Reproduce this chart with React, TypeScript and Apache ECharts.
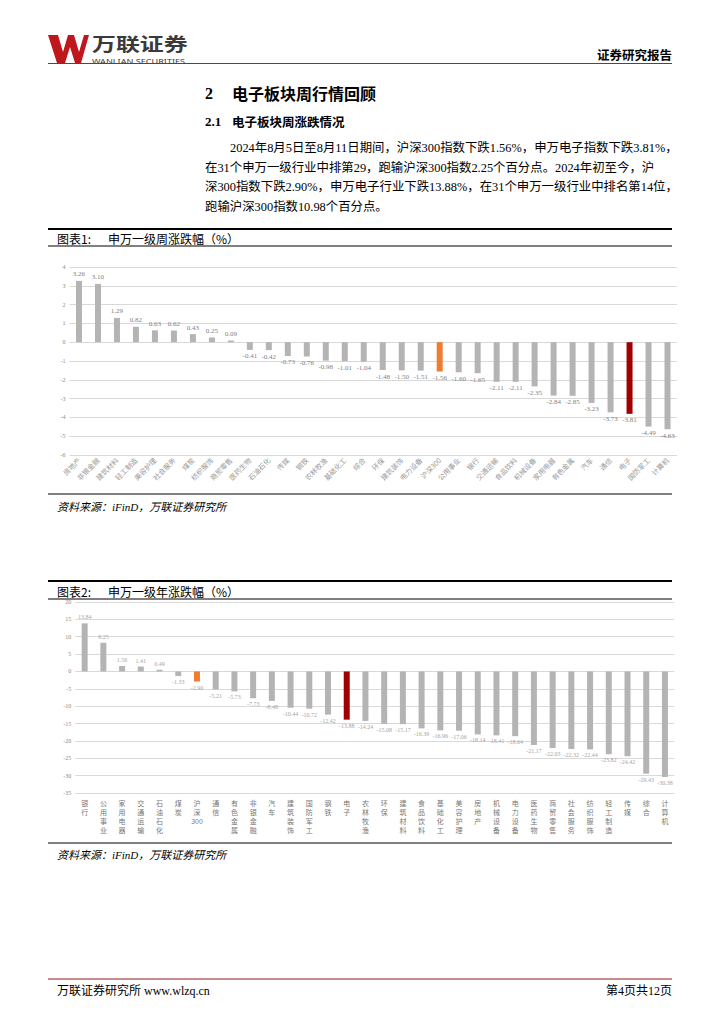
import React, { useEffect, useRef } from "react";
import * as echarts from "echarts";

const weekCategories = ["房地产","非银金融","建筑材料","轻工制造","美容护理","社会服务","煤炭","纺织服饰","商贸零售","医药生物","石油石化","传媒","钢铁","农林牧渔","基础化工","综合","环保","建筑装饰","电力设备","沪深300","公用事业","银行","交通运输","食品饮料","机械设备","家用电器","有色金属","汽车","通信","电子","国防军工","计算机"];
const weekValues = [3.26,3.10,1.29,0.82,0.63,0.62,0.43,0.25,0.09,-0.41,-0.42,-0.73,-0.76,-0.98,-1.01,-1.04,-1.48,-1.50,-1.51,-1.56,-1.60,-1.65,-2.11,-2.11,-2.35,-2.84,-2.85,-3.23,-3.73,-3.81,-4.49,-4.63];

const yearCategories = ["银行","公用事业","家用电器","交通运输","石油石化","煤炭","沪深300","通信","有色金属","非银金融","汽车","建筑装饰","国防军工","钢铁","电子","农林牧渔","环保","建筑材料","食品饮料","基础化工","美容护理","房地产","机械设备","电力设备","医药生物","商贸零售","社会服务","纺织服饰","轻工制造","传媒","综合","计算机"];
const yearValues = [13.84,8.25,1.56,1.41,0.49,-1.33,-2.90,-5.21,-5.73,-7.73,-8.48,-10.44,-10.72,-12.42,-13.88,-14.24,-15.08,-15.17,-16.39,-16.96,-17.06,-18.14,-18.41,-18.64,-21.17,-22.03,-22.32,-22.44,-23.82,-24.42,-29.43,-30.38];

const weekTicks = { min: -6, max: 4, interval: 1 };
const yearTicks = { min: -35, max: 20, interval: 5 };

const paragraph = [
  "2024年8月5日至8月11日期间，沪深300指数下跌1.56%，申万电子指数下跌3.81%，",
  "在31个申万一级行业中排第29，跑输沪深300指数2.25个百分点。2024年初至今，沪",
  "深300指数下跌2.90%，申万电子行业下跌13.88%，在31个申万一级行业中排名第14位，",
  "跑输沪深300指数10.98个百分点。",
];

const GRAY = "#b4b4b4";
const ORANGE = "#ed7d31";
const RED = "#a00000";
const SERIF = "'Liberation Serif','Noto Sans CJK SC',serif";
const SANS = "'Noto Sans CJK SC',sans-serif";

function barColor(name: string) {
  if (name === "沪深300") return ORANGE;
  if (name === "电子") return RED;
  return GRAY;
}

function buildData(cats: string[], vals: number[]) {
  return vals.map((v, i) => ({
    value: v,
    itemStyle: { color: barColor(cats[i]) },
    label: { position: v < 0 ? "bottom" : "top" },
  }));
}

export default function App() {
  const ref = useRef<HTMLDivElement>(null);
  useEffect(() => {
    if (!ref.current) return;
    const chart = echarts.init(ref.current, null, { renderer: "svg" });
    const L = 48, R = 672;
    const txt = (x: number, y: number, text: string, font: string, fill = "#000", align = "left", extra: any = {}) => ({
      type: "text", x, y, silent: true, ...extra,
      style: { text, font, fill, align, verticalAlign: "middle" },
    });
    const line = (x1: number, y1: number, x2: number, y2: number, stroke: string, lw: number) => ({
      type: "line", silent: true, shape: { x1, y1, x2, y2 }, style: { stroke, lineWidth: lw },
    });
    const graphic: any[] = [
      // logo
      { type: "polygon", shape: { points: [[48, 35], [58, 35], [63, 52], [68, 35], [74, 35], [79, 52], [84, 35], [89, 35], [81, 63], [75, 63], [70, 47], [65, 63], [57, 63]] }, style: { fill: "#c0171d" } },
      txt(92, 43, "万联证券", `bold 18px ${SANS}`, "#3a3a3a", "left", { scaleX: 1.33 }),
      txt(92, 60.5, "WANLIAN SECURITIES", `7px 'Noto Sans',sans-serif`, "#3a3a3a", "left", { scaleX: 1.3 }),
      line(L, 63.5, R, 63.5, "#c0171d", 1),
      txt(R, 54, "证券研究报告", `bold 12.5px ${SANS}`, "#000", "right"),
      txt(205, 93, "2", `bold 16px ${SERIF}`),
      txt(232, 93, "电子板块周行情回顾", `bold 16px ${SANS}`),
      txt(205, 121, "2.1", `bold 13px ${SERIF}`),
      txt(232, 121, "电子板块周涨跌情况", `bold 12.5px ${SANS}`),
      txt(230, 148, paragraph[0], `12.4px ${SERIF}`),
      txt(205, 168, paragraph[1], `12.4px ${SERIF}`),
      txt(205, 187, paragraph[2], `12.4px ${SERIF}`),
      txt(205, 207, paragraph[3], `12.4px ${SERIF}`),
      // chart 1 frame
      line(L, 229, R, 229, "#000", 2),
      txt(57, 238, "图表1:", `12px ${SANS}`),
      txt(108, 238, "申万一级周涨跌幅（%）", `12px ${SANS}`),
      line(L, 246, R, 246, "#000", 1),
      line(L, 494, R, 494, "#000", 1),
      txt(57, 507, "资料来源：iFinD，万联证券研究所", `italic 11px ${SERIF}`),
      // chart 2 frame
      line(L, 581, R, 581, "#000", 2),
      txt(57, 591, "图表2:", `12px ${SANS}`),
      txt(108, 591, "申万一级年涨跌幅（%）", `12px ${SANS}`),
      line(L, 599, R, 599, "#000", 1),
      line(L, 843, R, 843, "#000", 1),
      txt(57, 855, "资料来源：iFinD，万联证券研究所", `italic 11px ${SERIF}`),
      // footer
      line(L, 979, R, 979, "#8b1a1a", 1),
      txt(57, 991, "万联证券研究所 www.wlzq.cn", `12px ${SERIF}`),
      txt(R, 991, "第4页共12页", `12px ${SERIF}`, "#000", "right"),
    ];

    const axisLabelY = { fontSize: 6, color: "#888", margin: 4, fontFamily: SERIF };
    chart.setOption({
      animation: false,
      backgroundColor: "#fff",
      graphic,
      grid: [
        { left: 69.5, top: 267, width: 607.5, height: 188 },
        { left: 75.3, top: 602, width: 599, height: 191 },
      ],
      xAxis: [
        {
          gridIndex: 0, type: "category", data: weekCategories, position: "bottom",
          axisLine: { show: false }, axisTick: { show: false },
          axisLabel: { interval: 0, rotate: 45, fontSize: 7, color: "#999", margin: 4, fontFamily: SANS },
        },
        {
          gridIndex: 1, type: "category", data: yearCategories, position: "bottom",
          axisLine: { show: false }, axisTick: { show: false },
          axisLabel: {
            interval: 0, fontSize: 7, color: "#777", margin: 5, lineHeight: 9, fontFamily: SANS,
            verticalAlign: "top",
            formatter: (v: string) => (v === "沪深300" ? "沪\n深\n300" : v.split("").join("\n")),
          },
        },
      ],
      yAxis: [
        {
          gridIndex: 0, type: "value", ...weekTicks,
          axisLine: { show: false }, axisTick: { show: false },
          splitLine: { lineStyle: { color: "#d9d9d9", width: 1 } },
          axisLabel: axisLabelY,
        },
        {
          gridIndex: 1, type: "value", ...yearTicks,
          axisLine: { show: false }, axisTick: { show: false },
          splitLine: { lineStyle: { color: "#d9d9d9", width: 1 } },
          axisLabel: axisLabelY,
        },
      ],
      series: [
        {
          type: "bar", xAxisIndex: 0, yAxisIndex: 0, barWidth: 6,
          data: buildData(weekCategories, weekValues),
          label: { show: true, fontSize: 7, color: "#7f7f7f", distance: 3, fontFamily: SERIF, formatter: (p: any) => p.value.toFixed(2) },
        },
        {
          type: "bar", xAxisIndex: 1, yAxisIndex: 1, barWidth: 6,
          data: buildData(yearCategories, yearValues),
          label: { show: true, fontSize: 6, color: "#a5a5a5", distance: 3, fontFamily: SERIF, formatter: (p: any) => p.value.toFixed(2) },
        },
      ],
    });
    return () => chart.dispose();
  }, []);
  return (
    <div style={{ position: "absolute", left: 0, top: 0, width: 724, height: 1024, background: "#fff" }}>
      <div ref={ref} style={{ width: 724, height: 1024 }} />
    </div>
  );
}
